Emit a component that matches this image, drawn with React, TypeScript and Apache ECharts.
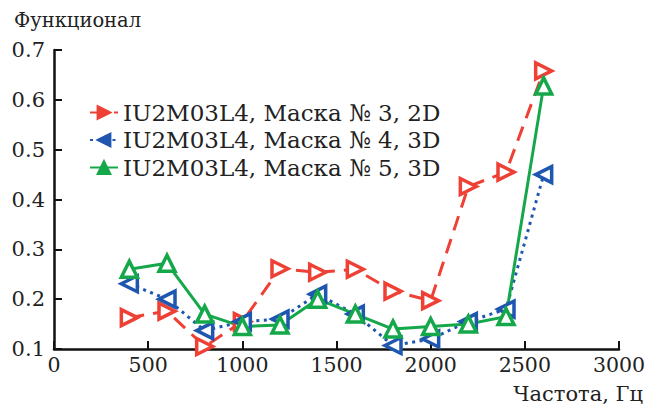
import React, { useEffect, useRef } from "react";
import * as echarts from "echarts";

const freqs = [400, 600, 800, 1000, 1200, 1400, 1600, 1800, 2000, 2200, 2400, 2600];
const mask3 = [0.163, 0.176, 0.105, 0.155, 0.261, 0.254, 0.26, 0.216, 0.197, 0.426, 0.455, 0.658];
const mask4 = [0.231, 0.2, 0.137, 0.155, 0.16, 0.21, 0.17, 0.107, 0.12, 0.155, 0.18, 0.45];
const mask5 = [0.26, 0.272, 0.17, 0.145, 0.148, 0.2, 0.17, 0.14, 0.145, 0.15, 0.165, 0.628];
const seriesNames = ["IU2M03L4, Маска № 3, 2D", "IU2M03L4, Маска № 4, 3D", "IU2M03L4, Маска № 5, 3D"];
const colors = ["#ee4035", "#1f56b0", "#15a84a"];
const yTitle = "Функционал";
const xTitle = "Частота, Гц";

const FONT = "DejaVu Serif";

export default function App() {
  const ref = useRef<HTMLDivElement>(null);
  useEffect(() => {
    if (!ref.current) return;
    const chart = echarts.init(ref.current, null, { renderer: "svg" });
    const mk = (name: string, data: number[], color: string, type: any, rot: number) => ({
      name,
      type: "line",
      data: freqs.map((f, i) => [f, data[i]]),
      symbol: "triangle",
      symbolSize: 16,
      symbolRotate: rot,
      lineStyle: { color, width: 3, type },
      itemStyle: { color: "#ffffff", borderColor: color, borderWidth: 3.5 },
    });
    chart.setOption({
      animation: false,
      textStyle: { fontFamily: FONT },
      grid: { left: 54, right: 42, top: 50, bottom: 59 },
      legend: {
        orient: "vertical",
        left: 84,
        top: 96,
        itemGap: 4.5,
        itemWidth: 28,
        itemHeight: 16,
        textStyle: { fontFamily: FONT, fontSize: 23, color: "#222", lineHeight: 23 },
        data: seriesNames.map((n, i) => ({ name: n, itemStyle: { color: colors[i], borderColor: colors[i] } })),
      },
      xAxis: {
        type: "value",
        min: 0,
        max: 3000,
        interval: 500,
        axisLine: { lineStyle: { color: "#111", width: 2.5 } },
        axisTick: { inside: true, length: 8, lineStyle: { color: "#111", width: 2 } },
        axisLabel: { fontFamily: FONT, fontSize: 20.5, color: "#222", margin: 5, formatter: (v: number) => String(v) },
        splitLine: { show: false },
      },
      yAxis: {
        type: "value",
        min: 0.1,
        max: 0.7,
        interval: 0.1,
        axisLine: { show: true, lineStyle: { color: "#111", width: 2.5 } },
        axisTick: { show: true, inside: true, length: 8, lineStyle: { color: "#111", width: 2 } },
        axisLabel: { fontFamily: FONT, fontSize: 21, color: "#222", margin: 9, formatter: (v: number) => v.toFixed(1) },
        splitLine: { show: false },
      },
      graphic: [
        { type: "text", left: 14, top: 10, style: { text: yTitle, fontFamily: FONT, fontSize: 19.5, fill: "#222" } },
        { type: "text", right: 18, top: 383, style: { text: xTitle, fontFamily: FONT, fontSize: 21, fill: "#222" } },
      ],
      series: [
        mk(seriesNames[0], mask3, colors[0], [15, 9], -90),
        mk(seriesNames[1], mask4, colors[1], [3, 4.5], 90),
        mk(seriesNames[2], mask5, colors[2], "solid", 0),
      ],
    });
    return () => chart.dispose();
  }, []);
  return <div ref={ref} style={{ width: 661, height: 408, position: "absolute", left: 0, top: 0 }} />;
}
